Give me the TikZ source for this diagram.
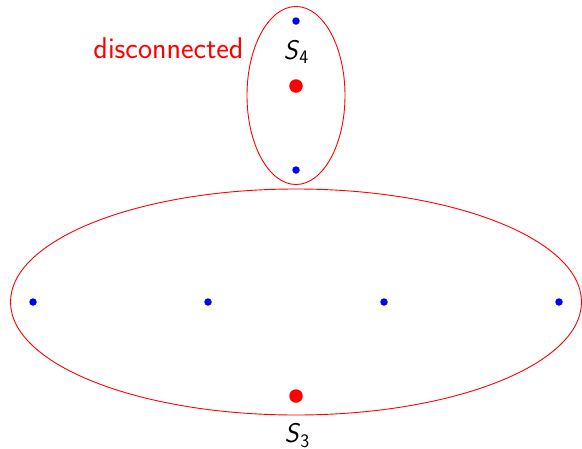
\documentclass[tikz,border=0pt]{standalone}
\usepackage{fontspec}
\begin{document}
\begin{tikzpicture}[x=1pt,y=-1pt,
  setline/.style={draw=red,line width=0.9pt},
  bdot/.style={circle,fill=blue,inner sep=0pt,minimum size=7.5pt},
  rdot/.style={circle,fill=red,inner sep=0pt,minimum size=13.5pt},
  lbl/.style={font=\fontsize{27}{32}\selectfont\sffamily,anchor=base,inner sep=0pt}]
\useasboundingbox (0,0) rectangle (582,448);
\draw[setline] (296,95.5) ellipse [x radius=49, y radius=89];
\draw[setline] (296,302) ellipse [x radius=285.5, y radius=113];
\node[bdot] (a) at (296,21) {};
\node[bdot] (b) at (296,170) {};
\node[bdot] (c) at (33,302) {};
\node[bdot] (d) at (208,302) {};
\node[bdot] (e) at (384,302) {};
\node[bdot] (f) at (559,302) {};
\node[rdot] (r4) at (296,86) {};
\node[rdot] (r3) at (296,396) {};
\node[lbl] (s4) at (296,59) {\textit{S}\raisebox{-0.18em}{\fontsize{19}{22}\selectfont 4}};
\node[lbl] (s3) at (297,442.5) {\textit{S}\raisebox{-0.18em}{\fontsize{19}{22}\selectfont 3}};
\node[lbl,text=red,font=\fontsize{30}{34}\selectfont\sffamily] (dis) at (168.5,58) {disconnected};
\end{tikzpicture}
\end{document}
